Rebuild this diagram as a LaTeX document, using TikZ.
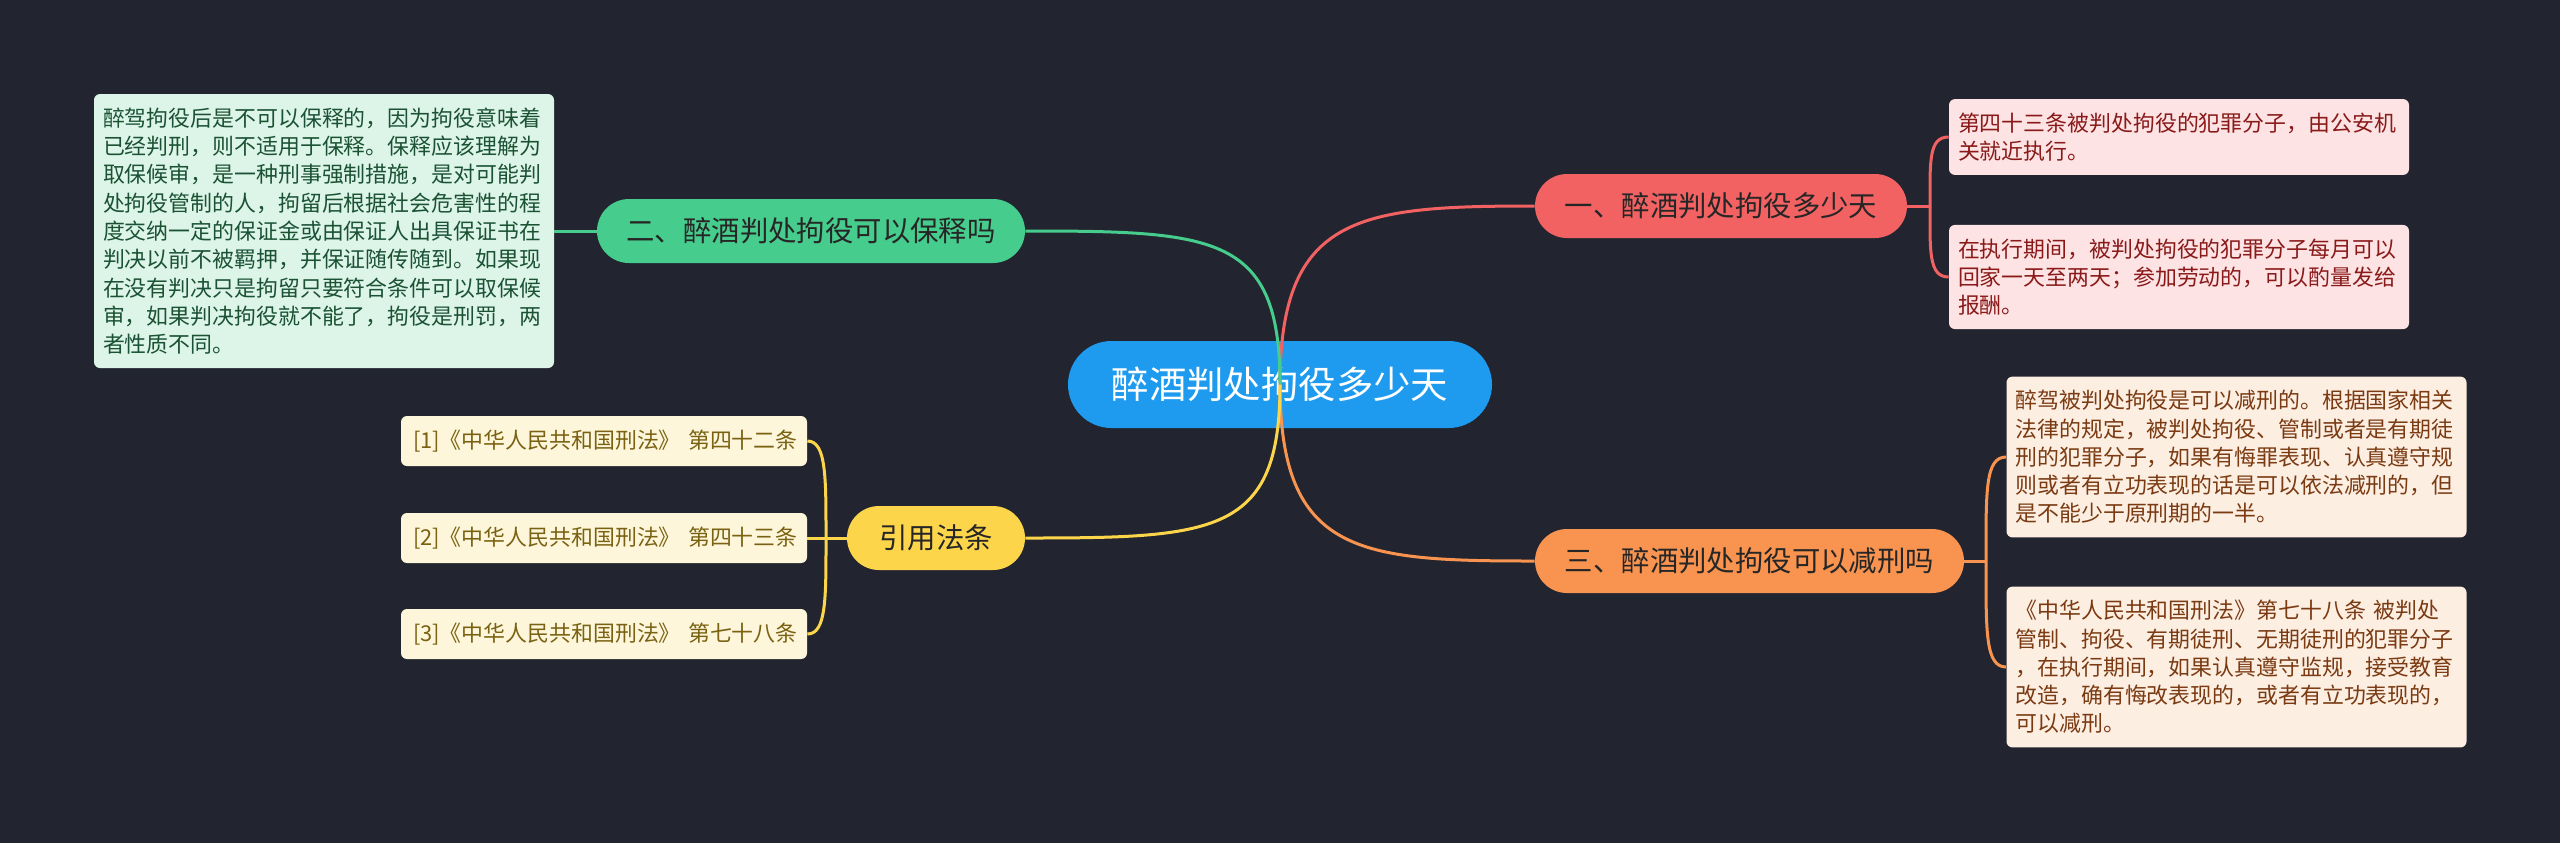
\documentclass[tikz,border=0pt]{standalone}
\usepackage{fontspec}
\setmainfont{Noto Sans CJK SC}
\usepackage{xcolor}
\usepackage{tikz}

\definecolor{bgcol}{HTML}{22252F}
\definecolor{rootcol}{HTML}{1E9BEF}
\definecolor{redcol}{HTML}{F26262}
\definecolor{redleaf}{HTML}{FDE3E3}
\definecolor{redtext}{HTML}{8A1A1A}
\definecolor{orgcol}{HTML}{F99450}
\definecolor{orgleaf}{HTML}{FDEEE2}
\definecolor{orgtext}{HTML}{7A3A12}
\definecolor{grncol}{HTML}{46CC8C}
\definecolor{grnleaf}{HTML}{DDF5E8}
\definecolor{grntext}{HTML}{1B5234}
\definecolor{ylwcol}{HTML}{FDD54B}
\definecolor{ylwleaf}{HTML}{FDF6DA}
\definecolor{ylwtext}{HTML}{7A6212}

\begin{document}
\begin{tikzpicture}[x=0.5pt,y=-0.5pt,
    root/.style={fill=rootcol, text=white, rounded corners=21.75pt, minimum height=43.5pt, minimum width=212pt, inner sep=0pt, font=\fontsize{18.7}{22}\selectfont},
    branch/.style={rounded corners=16pt, minimum height=32pt, inner sep=0pt, text=black!85, font=\fontsize{14.2}{17}\selectfont},
    leaf/.style={rounded corners=3pt, text width=221pt, align=left, inner xsep=4.5pt, inner ysep=6.8pt, font=\fontsize{10.95}{14.15}\selectfont},
    cite/.style={rounded corners=3pt, text width=191pt, align=left, inner xsep=6pt, inner ysep=0pt, minimum height=25pt, fill=ylwleaf, text=ylwtext, font=\fontsize{10.95}{14.15}\selectfont},
    link/.style={line width=1.5pt}]
            \useasboundingbox (0,0) rectangle (2560,843);
            \fill[bgcol] (0,0) rectangle (2560,843);

            \node[root] (root) at (1280,384.5) {醉酒判处拘役多少天};
            \node[branch, fill=redcol, minimum width=186pt] (b1) at (1721,206) {一、醉酒判处拘役多少天};
            \node[branch, fill=grncol, minimum width=214pt] (b2) at (811,231) {二、醉酒判处拘役可以保释吗};
            \node[branch, fill=orgcol, minimum width=214.5pt] (b3) at (1749.5,561) {三、醉酒判处拘役可以减刑吗};
            \node[branch, fill=ylwcol, minimum width=89pt] (b4) at (936,538) {引用法条};

            \node[leaf, fill=grnleaf, text=grntext] (l2) at (324,231) {醉驾拘役后是不可以保释的，因为拘役意味着\\已经判刑，则不适用于保释。保释应该理解为\\取保候审，是一种刑事强制措施，是对可能判\\处拘役管制的人，拘留后根据社会危害性的程\\度交纳一定的保证金或由保证人出具保证书在\\判决以前不被羁押，并保证随传随到。如果现\\在没有判决只是拘留只要符合条件可以取保候\\审，如果判决拘役就不能了，拘役是刑罚，两\\者性质不同。};
            \node[leaf, fill=redleaf, text=redtext] (l1a) at (2179,137) {第四十三条被判处拘役的犯罪分子，由公安机\\关就近执行。};
            \node[leaf, fill=redleaf, text=redtext] (l1b) at (2179,277) {在执行期间，被判处拘役的犯罪分子每月可以\\回家一天至两天；参加劳动的，可以酌量发给\\报酬。};
            \node[leaf, fill=orgleaf, text=orgtext] (l3a) at (2236.5,457) {醉驾被判处拘役是可以减刑的。根据国家相关\\法律的规定，被判处拘役、管制或者是有期徒\\刑的犯罪分子，如果有悔罪表现、认真遵守规\\则或者有立功表现的话是可以依法减刑的，但\\是不能少于原刑期的一半。};
            \node[leaf, fill=orgleaf, text=orgtext] (l3b) at (2236.5,667) {《中华人民共和国刑法》第七十八条 被判处\\管制、拘役、有期徒刑、无期徒刑的犯罪分子\\，在执行期间，如果认真遵守监规，接受教育\\改造，确有悔改表现的，或者有立功表现的，\\可以减刑。};
            \node[cite] (c1) at (604,441) {[1]《中华人民共和国刑法》~第四十二条};
            \node[cite] (c2) at (604,538) {[2]《中华人民共和国刑法》~第四十三条};
            \node[cite] (c3) at (604,634) {[3]《中华人民共和国刑法》~第七十八条};

            \coordinate (j1) at (1930,206);
            \coordinate (j3) at (1986,561);
            \coordinate (j4) at (826,538);

            \draw[link, redcol] (root.center) .. controls +(0,-170) and +(-175,0) .. (b1.west);
            \draw[link, grncol] (root.center) .. controls +(0,-150) and +(190,0) .. (b2.east);
            \draw[link, orgcol] (root.center) .. controls +(0,170) and +(-175,0) .. (b3.west);
            \draw[link, ylwcol] (root.center) .. controls +(0,150) and +(190,0) .. (b4.east);

            \draw[link, redcol] (b1.east) -- (j1);
            \draw[link, redcol] (j1) .. controls +(0,-45) and +(-20,0) .. (l1a.west);
            \draw[link, redcol] (j1) .. controls +(0,45) and +(-20,0) .. (l1b.west);
            \draw[link, grncol] (b2.west) -- (l2.east);
            \draw[link, orgcol] (b3.east) -- (j3);
            \draw[link, orgcol] (j3) .. controls +(0,-70) and +(-21,0) .. (l3a.west);
            \draw[link, orgcol] (j3) .. controls +(0,70) and +(-21,0) .. (l3b.west);
            \draw[link, ylwcol] (b4.west) -- (j4) -- (c2.east);
            \draw[link, ylwcol] (j4) .. controls +(0,-60) and +(19,0) .. (c1.east);
            \draw[link, ylwcol] (j4) .. controls +(0,60) and +(19,0) .. (c3.east);
        \end{tikzpicture}
\end{document}
